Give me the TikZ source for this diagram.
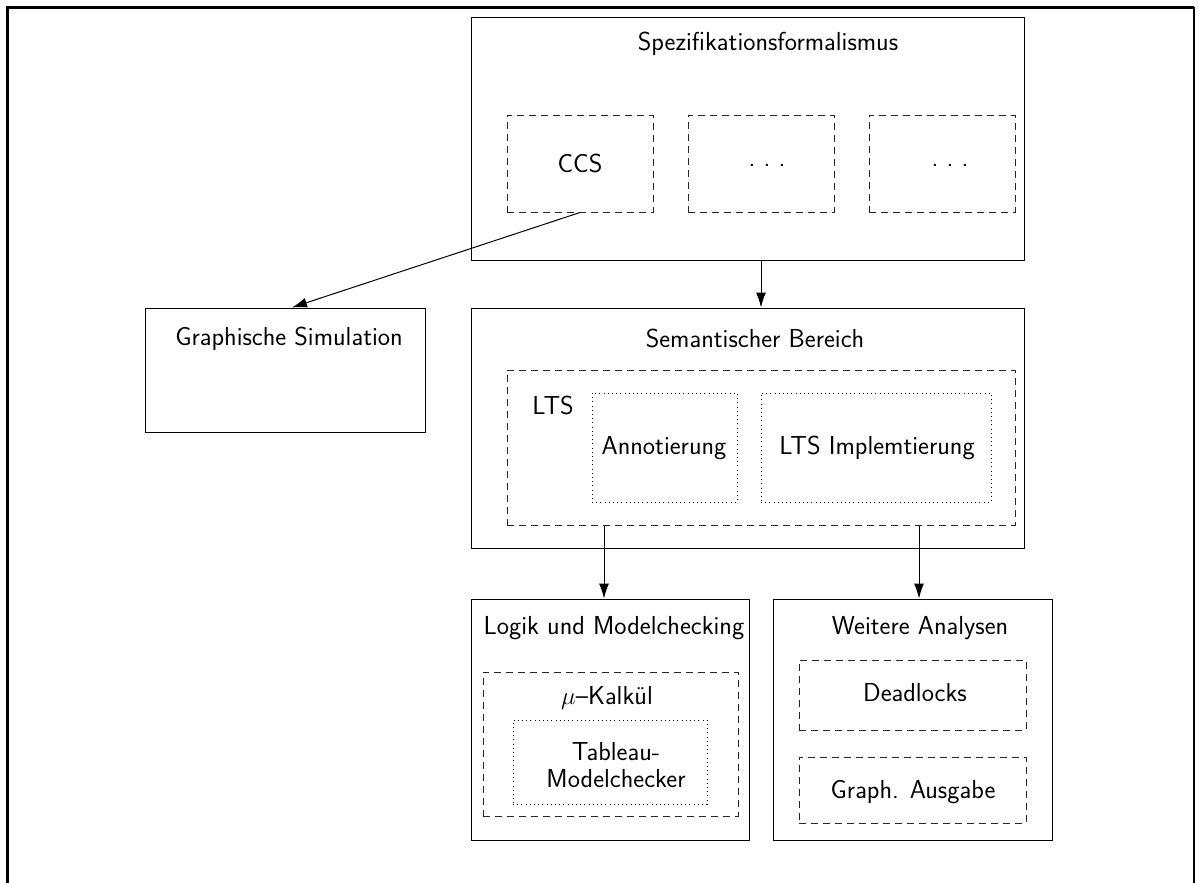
\documentclass[tikz,border=0pt]{standalone}
\usetikzlibrary{arrows.meta,calc}
\begin{document}
\begin{tikzpicture}[x=1pt,y=-1pt,
  every node/.style={font=\fontsize{26}{30}\selectfont\sffamily},
  solidbox/.style={draw,line width=1pt,inner sep=0pt},
  dashbox/.style={draw=black!85,line width=1pt,inner sep=0pt,dash pattern=on 7pt off 5pt},
  dotbox/.style={draw,line width=1pt,inner sep=0pt,dash pattern=on 1pt off 3.2pt},
  label/.style={inner sep=0pt},
  arr/.style={line width=1pt,-{Latex[length=15pt,width=10pt]}}]
\useasboundingbox (0,0) rectangle (1199,883);
% outer frame (open at the bottom)
\draw[line width=3pt] (7,883) -- (7,7.5) -- (1194,7.5);
\draw[line width=2pt] (1194,7.5) -- (1194,883);

% specification layer
\node[solidbox,minimum width=553pt,minimum height=242pt] (spez) at (747.5,139) {};
\node[label] (spezt) at (768,44) {Spezifikationsformalismus};
\node[dashbox,minimum width=146pt,minimum height=97pt] (ccs) at (580,163.5) {};
\node[label] (ccst) at (580,163) {CCS};
\node[dashbox,minimum width=146pt,minimum height=97pt] (f2) at (761,163.5) {};
\node[label] (f2t) at (767,165) {.\ .\ .};
\node[dashbox,minimum width=146pt,minimum height=97pt] (f3) at (942,163.5) {};
\node[label] (f3t) at (950,165) {.\ .\ .};

% graphical simulation
\node[solidbox,minimum width=280pt,minimum height=124pt] (sim) at (285,370) {};
\node[label] (simt) at (289,339) {Graphische Simulation};

% semantic domain
\node[solidbox,minimum width=553pt,minimum height=240pt] (sem) at (747.5,428) {};
\node[label] (semt) at (755,338) {Semantischer Bereich};
\node[dashbox,minimum width=508pt,minimum height=155pt] (lts) at (761,447.5) {};
\node[label] (ltst) at (553,405) {LTS};
\node[dotbox,minimum width=145pt,minimum height=109pt] (ann) at (664.5,447.5) {};
\node[label] (annt) at (664,448) {Annotierung};
\node[dotbox,minimum width=230pt,minimum height=109pt] (impl) at (876,447.5) {};
\node[label] (implt) at (877,448) {LTS Implemtierung};

% logic and model checking
\node[solidbox,minimum width=278pt,minimum height=241pt] (logik) at (610,719.5) {};
\node[label] (logikt) at (614,628) {Logik und Modelchecking};
\node[dashbox,minimum width=255pt,minimum height=144pt] (mu) at (610.5,744) {};
\node[label] (mut) at (607,698) {$\mu$--Kalkül};
\node[dotbox,minimum width=194pt,minimum height=84pt] (tab) at (610,762) {};
\node[label,align=center] (tabt) at (616,765) {Tableau-\\[-3pt]Modelchecker};

% further analyses
\node[solidbox,minimum width=279pt,minimum height=241pt] (weit) at (912.5,719.5) {};
\node[label] (weitt) at (920,628) {Weitere Analysen};
\node[dashbox,minimum width=227pt,minimum height=70pt] (dead) at (912.5,695) {};
\node[label] (deadt) at (915,693) {Deadlocks};
\node[dashbox,minimum width=227pt,minimum height=66pt] (ausg) at (912.5,790) {};
\node[label] (ausgt) at (913,792) {Graph. Ausgabe};

% connectors
\draw[arr] (ccs.south) -- ([xshift=7pt]sim.north);
\draw[arr] (lts.north |- spez.south) -- (lts.north |- sem.north);
\draw[arr] ([xshift=-6pt]logik.north |- lts.south) -- ([xshift=-6pt]logik.north);
\draw[arr] ([xshift=6.5pt]weit.north |- lts.south) -- ([xshift=6.5pt]weit.north);
\end{tikzpicture}
\end{document}
